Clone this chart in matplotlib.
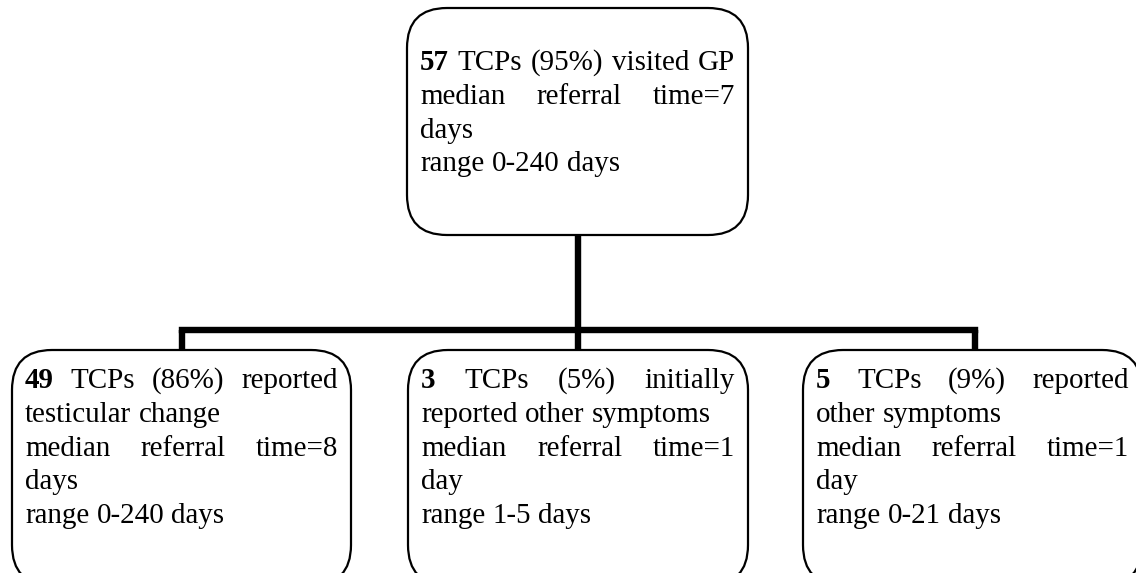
import matplotlib
matplotlib.use("Agg")
import matplotlib.pyplot as plt
from matplotlib.patches import FancyBboxPatch

W, H = 1136, 573
DPI = 100

# ---- content ----
box_names = ["top", "left", "middle", "right"]
box_bold = ["57", "49", "3", "5"]
box_lines = [
    ["57 TCPs (95%) visited GP", "median referral time=7", "days", "range 0-240 days"],
    ["49 TCPs (86%) reported", "testicular change", "median referral time=8", "days", "range 0-240 days"],
    ["3 TCPs (5%) initially", "reported other symptoms", "median referral time=1", "day", "range 1-5 days"],
    ["5 TCPs (9%) reported", "other symptoms", "median referral time=1", "day", "range 0-21 days"],
]
box_justify = [
    [True, True, False, False],
    [True, False, True, False, False],
    [True, False, True, False, False],
    [True, False, True, False, False],
]

# ---- layout (pixel units) ----
box_geom = {  # x0, y0, x1, y1
    "top": (407, 8, 748, 235),
    "left": (12, 350, 351, 585),
    "middle": (408, 350, 748, 585),
    "right": (803, 350, 1142, 585),
}
text_pad = 13
first_base = {"top": 70, "left": 388, "middle": 388, "right": 388}
line_step = 33.8
fs = 20.9
fam = "Liberation Serif"

fig = plt.figure(figsize=(W / DPI, H / DPI), dpi=DPI)
ax = fig.add_axes([0, 0, 1, 1])
ax.set_xlim(0, W)
ax.set_ylim(H, 0)
ax.axis("off")

# connectors
lw_thick = 4.6
cx = 578
ax.plot([cx, cx], [235, 330], color="black", lw=lw_thick, solid_capstyle="butt", zorder=1)
ax.plot([182, 975], [330, 330], color="black", lw=lw_thick, solid_capstyle="projecting", zorder=1)
for x in (182, 578, 975):
    ax.plot([x, x], [330, 350], color="black", lw=lw_thick, solid_capstyle="butt", zorder=1)

# boxes
for name in box_names:
    x0, y0, x1, y1 = box_geom[name]
    p = FancyBboxPatch((x0, y0), x1 - x0, y1 - y0,
                       boxstyle="round,pad=0,rounding_size=40",
                       fc="white", ec="black", lw=1.6, zorder=2)
    ax.add_patch(p)

renderer = fig.canvas.get_renderer()


def word_width(word, weight):
    t = ax.text(0, 0, word, fontsize=fs, family=fam, weight=weight)
    bb = t.get_window_extent(renderer=renderer)
    t.remove()
    return bb.width


space_w = word_width("a a", "normal") - word_width("aa", "normal")

for i, name in enumerate(box_names):
    x0, y0, x1, y1 = box_geom[name]
    tx0 = x0 + text_pad
    tx1 = x1 - text_pad
    for j, line in enumerate(box_lines[i]):
        y = first_base[name] + j * line_step
        words = line.split(" ")
        weights = ["bold" if (j == 0 and k == 0 and w == box_bold[i]) else "normal"
                   for k, w in enumerate(words)]
        widths = [word_width(w, wt) for w, wt in zip(words, weights)]
        if box_justify[i][j] and len(words) > 1:
            gap = (tx1 - tx0 - sum(widths)) / (len(words) - 1)
        else:
            gap = space_w
        x = tx0
        for w, wt, ww in zip(words, weights, widths):
            ax.text(x, y, w, fontsize=fs, family=fam, weight=wt,
                    ha="left", va="baseline", zorder=3)
            x += ww + gap

fig.savefig("out.png", dpi=DPI)
